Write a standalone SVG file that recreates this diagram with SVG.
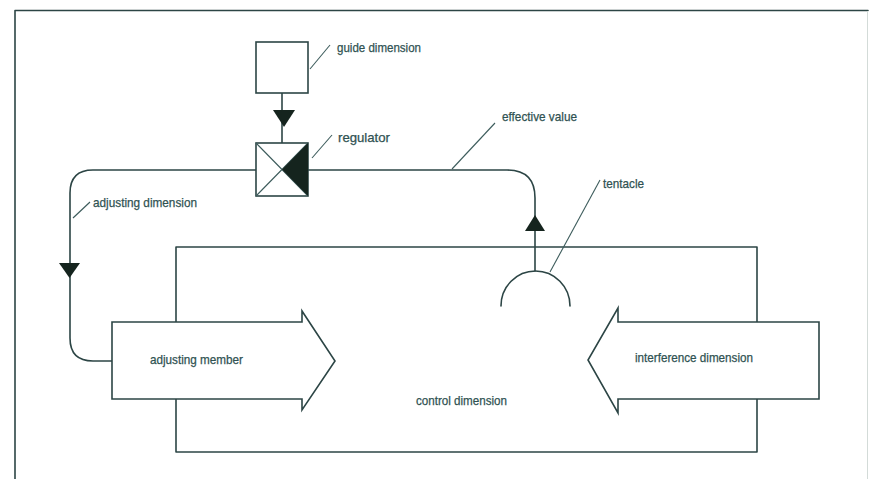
<svg xmlns="http://www.w3.org/2000/svg" width="869" height="479" viewBox="0 0 869 479">
  <style>
    .ln { fill: none; stroke: #2c4545; stroke-width: 1.6; stroke-linecap: round; stroke-linejoin: round; }
    .box { fill: #ffffff; stroke: #2c4545; stroke-width: 1.6; stroke-linejoin: miter; }
    .lead { fill: none; stroke: #3d5c5c; stroke-width: 1.1; }
    .head { fill: #15241e; stroke: none; }
    .lbl { font-family: "Liberation Sans", Arial, sans-serif; font-size: 13px; fill: #2f5252; stroke: #2f5252; stroke-width: 0.25; }
  </style>

  <rect x="0" y="0" width="869" height="479" fill="#ffffff"/>

  <!-- page frame -->
  <g id="frame">
    <path class="ln" d="M15,479 L15,10.5 L868,10.5"/>
    <path d="M867.5,11 L867.5,479" fill="none" stroke="#d3dbd8" stroke-width="1"/>
  </g>

  <!-- controlled system -->
  <g id="control-dimension">
    <rect class="ln" x="176" y="247" width="581" height="205"/>
    <text class="lbl" x="416" y="405" textLength="91" lengthAdjust="spacingAndGlyphs">control dimension</text>
  </g>

  <!-- connectors -->
  <g id="connectors">
    <!-- guide dimension to regulator -->
    <path class="ln" d="M282,93 L282,143"/>
    <polygon class="head" points="273,110 295,110 284,127"/>
    <!-- regulator to adjusting member -->
    <path class="ln" d="M256,170 L93,170 Q70,170 70,193 L70,338 Q70,361 93,361 L112,361"/>
    <polygon class="head" points="59,263 80,263 69.5,278"/>
    <!-- tentacle to regulator -->
    <path class="ln" d="M308,170 L507,170 Q535,170 535,198 L535,271"/>
    <polygon class="head" points="535,215 545,231 525,231"/>
  </g>

  <g id="guide-dimension">
    <rect class="box" x="256" y="42" width="52" height="51"/>
    <path class="lead" d="M310,69 L330,45"/>
    <text class="lbl" x="337" y="52" textLength="84" lengthAdjust="spacingAndGlyphs">guide dimension</text>
  </g>

  <g id="regulator">
    <rect class="box" x="256" y="143" width="52" height="53"/>
    <path class="lead" d="M256,143 L308,196 M256,196 L308,143"/>
    <polygon class="head" points="282,169.5 308,143 308,196"/>
    <path class="lead" d="M312,158 L332,135"/>
    <text class="lbl" x="338" y="142" textLength="52" lengthAdjust="spacingAndGlyphs">regulator</text>
  </g>

  <g id="adjusting-dimension">
    <path class="lead" d="M73,218 L90,202"/>
    <text class="lbl" x="93" y="207" textLength="104" lengthAdjust="spacingAndGlyphs">adjusting dimension</text>
  </g>

  <g id="effective-value">
    <path class="lead" d="M452,169 L495,123"/>
    <text class="lbl" x="502" y="121" textLength="75" lengthAdjust="spacingAndGlyphs">effective value</text>
  </g>

  <g id="tentacle">
    <path class="ln" d="M501,306 A34.5,35 0 0 1 570,306"/>
    <path class="lead" d="M550,272 L600,180"/>
    <text class="lbl" x="603" y="188" textLength="41" lengthAdjust="spacingAndGlyphs">tentacle</text>
  </g>

  <g id="adjusting-member">
    <polygon class="box" points="112,322 302,322 302,311 335,361 302,410 302,399 112,399"/>
    <text class="lbl" x="150" y="364" textLength="93" lengthAdjust="spacingAndGlyphs">adjusting member</text>
  </g>

  <g id="interference-dimension">
    <polygon class="box" points="819,322 618,322 618,308 588,360 618,413 618,399 819,399"/>
    <text class="lbl" x="635" y="362" textLength="118" lengthAdjust="spacingAndGlyphs">interference dimension</text>
  </g>
</svg>
